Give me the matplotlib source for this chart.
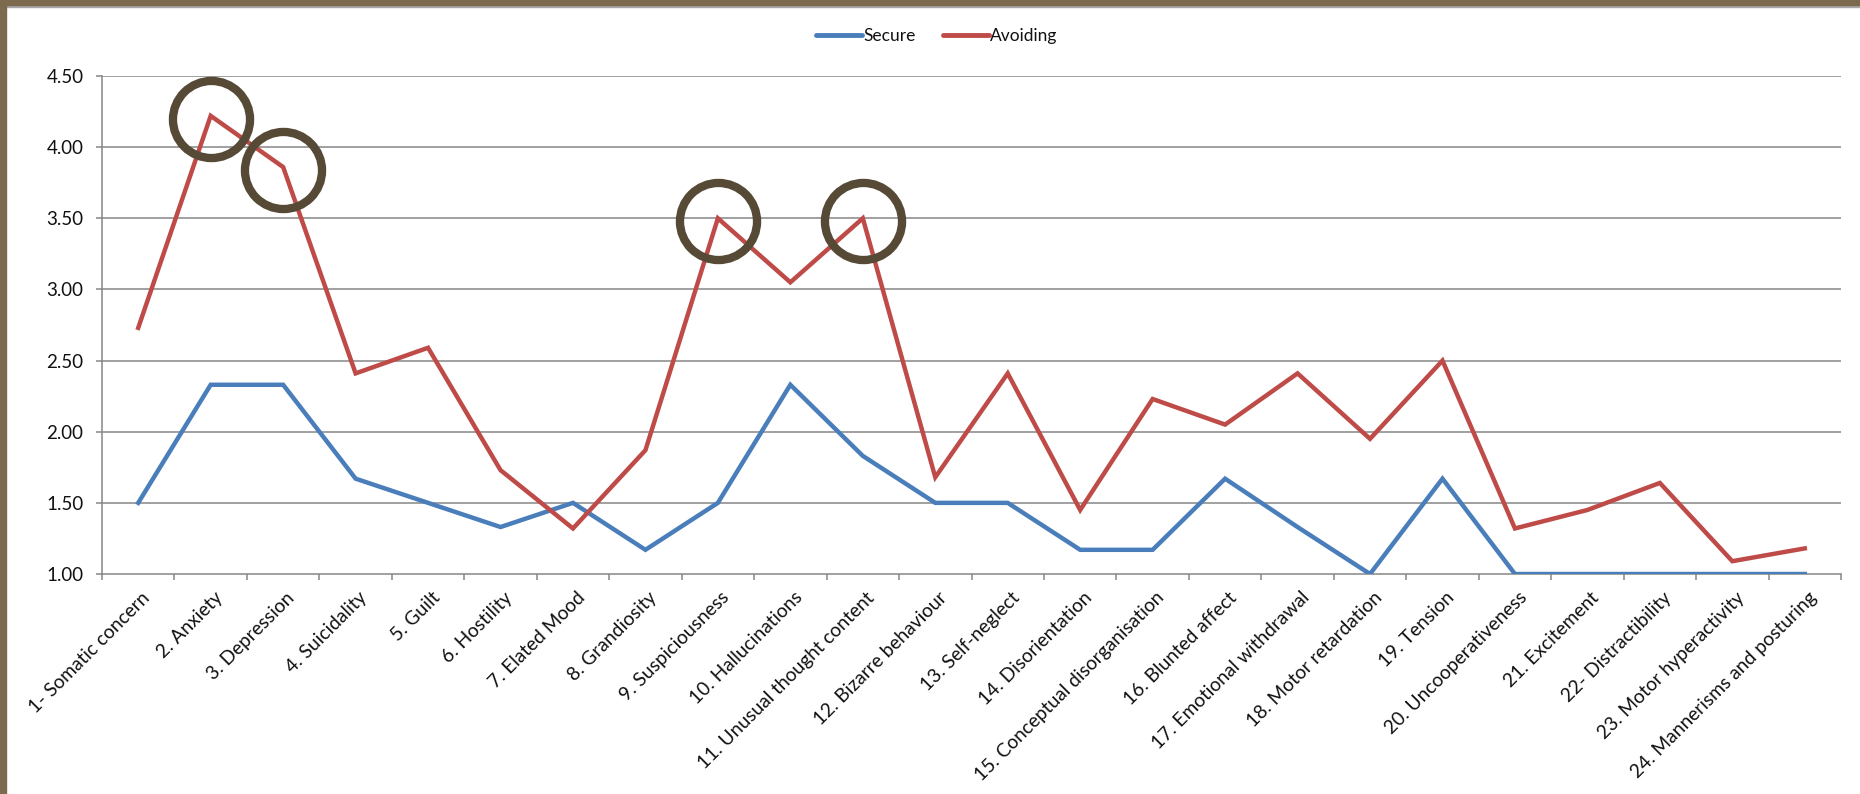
import matplotlib
matplotlib.use("Agg")
import matplotlib.pyplot as plt
import matplotlib.transforms as mtransforms
from matplotlib.patches import Rectangle

categories = [
    "1- Somatic concern", "2. Anxiety", "3. Depression", "4. Suicidality",
    "5. Guilt", "6. Hostility", "7. Elated Mood", "8. Grandiosity",
    "9. Suspiciousness", "10. Hallucinations", "11. Unusual thought content",
    "12. Bizarre behaviour", "13. Self-neglect", "14. Disorientation",
    "15. Conceptual disorganisation", "16. Blunted affect",
    "17. Emotional withdrawal", "18. Motor retardation", "19. Tension",
    "20. Uncooperativeness", "21. Excitement", "22- Distractibility",
    "23. Motor hyperactivity", "24. Mannerisms and posturing",
]
secure = [1.50, 2.33, 2.33, 1.67, 1.50, 1.33, 1.50, 1.17, 1.50, 2.33, 1.83, 1.50,
          1.50, 1.17, 1.17, 1.67, 1.33, 1.00, 1.67, 1.00, 1.00, 1.00, 1.00, 1.00]
avoiding = [2.73, 4.22, 3.86, 2.41, 2.59, 1.73, 1.32, 1.87, 3.50, 3.05, 3.50, 1.68,
            2.41, 1.45, 2.23, 2.05, 2.41, 1.95, 2.50, 1.32, 1.45, 1.64, 1.09, 1.18]
highlighted = [1, 2, 8, 10]  # indices of circled Avoiding points
yticks = [1.00, 1.50, 2.00, 2.50, 3.00, 3.50, 4.00, 4.50]

FONT = ["Lato", "DejaVu Sans"]
plt.rcParams["font.family"] = FONT

W, H = 1860, 794
fig = plt.figure(figsize=(W / 100, H / 100), dpi=100)
fig.patch.set_facecolor("white")

# brown frame on top and left
fig.add_artist(Rectangle((0, 1 - 5 / H), 1, 5 / H, transform=fig.transFigure,
                         color="#7B6A4E", zorder=10))
fig.add_artist(Rectangle((0, 0), 5.5 / W, 1, transform=fig.transFigure,
                         color="#7B6A4E", zorder=10))
fig.add_artist(Rectangle((0, 1 - 6.5 / H), 1, 1.5 / H, transform=fig.transFigure,
                         color="#A8A8A8", zorder=9))

left, right, top, bottom = 102 / W, 1841 / W, 1 - 76 / H, 1 - 574 / H
ax = fig.add_axes([left, bottom, right - left, top - bottom])

x = list(range(len(categories)))
grid_c = "#868686"
ax.set_ylim(1.0, 4.5)
ax.set_xlim(-0.5, len(categories) - 0.5)
ax.set_yticks(yticks)
ax.set_yticklabels([f"{v:.2f}" for v in yticks])
for v in yticks[1:]:
    ax.axhline(v, color=grid_c, lw=1.1, zorder=1)

ax.plot(x, secure, color="#4A7EBB", lw=3.2, label="Secure", zorder=3,
        solid_joinstyle="miter")
ax.plot(x, avoiding, color="#BE4B48", lw=3.2, label="Avoiding", zorder=3,
        solid_joinstyle="miter")

hx = [x[i] for i in highlighted]
hy = [avoiding[i] - 0.02 for i in highlighted]
ax.plot(hx, hy, linestyle="none", marker="o", markersize=55.5,
        markerfacecolor="none", markeredgecolor="#564A36", markeredgewidth=6,
        zorder=5, clip_on=False)

for s in ["top", "right"]:
    ax.spines[s].set_visible(False)
for s in ["left", "bottom"]:
    ax.spines[s].set_color(grid_c)
    ax.spines[s].set_linewidth(1.1)

ax.set_xticks([i - 0.5 for i in range(len(categories) + 1)], minor=True)
ax.set_xticks(x)
ax.set_xticklabels(categories, rotation=45, ha="right", va="center",
                   rotation_mode="anchor", fontsize=13.8, color="#111111")
ax.tick_params(axis="x", which="major", length=0, pad=15)
ax.tick_params(axis="x", which="minor", length=6 * 0.72, width=1.1, color=grid_c,
               direction="out")
ax.tick_params(axis="y", length=6 * 0.72, width=1.1, color=grid_c, pad=9,
               labelsize=13.5, labelcolor="#111111")
offset = mtransforms.ScaledTranslation(9 / 100, 0, fig.dpi_scale_trans)
for lbl in ax.get_xticklabels():
    lbl.set_transform(lbl.get_transform() + offset)

leg = fig.legend(loc="center", bbox_to_anchor=(937 / W, 1 - 36 / H), ncol=2,
                 frameon=False, fontsize=12.5, handlelength=2.6, handletextpad=0.1,
                 columnspacing=1.6)
for t in leg.get_texts():
    t.set_color("#111111")
for line in leg.get_lines():
    line.set_linewidth(3.5)
    line.set_solid_capstyle("round")

fig.savefig("out.png", dpi=100, facecolor="white")
